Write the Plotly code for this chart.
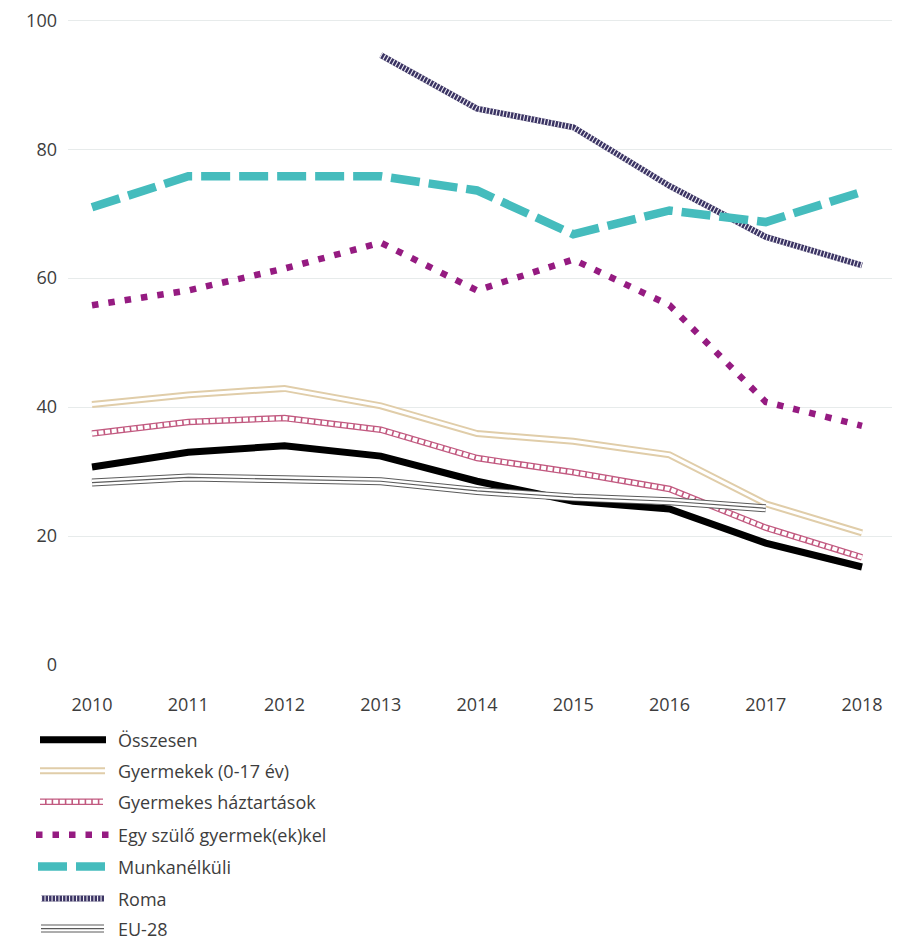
import plotly.graph_objects as go

# ---------------- data ----------------
years = [2010, 2011, 2012, 2013, 2014, 2015, 2016, 2017, 2018]
osszesen = [30.7, 33.0, 34.0, 32.4, 28.5, 25.4, 24.2, 18.9, 15.2]
gyermekek = [40.4, 41.9, 42.9, 40.2, 35.9, 34.7, 32.6, 25.0, 20.5]
haztartasok = [35.9, 37.7, 38.3, 36.5, 32.1, 29.9, 27.3, 21.3, 16.7]
egy_szulo = [55.8, 58.1, 61.5, 65.5, 58.1, 62.9, 55.8, 40.8, 37.1]
munkanelkuli = [71.0, 75.8, 75.8, 75.8, 73.6, 66.8, 70.5, 68.7, 73.4]
roma = [None, None, None, 94.6, 86.3, 83.4, 74.3, 66.4, 62.0]
eu28 = [28.3, 29.1, 28.8, 28.5, 27.0, 26.0, 25.4, 24.3, None]

names = ["Összesen", "Gyermekek (0-17 év)", "Gyermekes háztartások",
         "Egy szülő gyermek(ek)kel", "Munkanélküli", "Roma", "EU-28"]
y_ticks = [0, 20, 40, 60, 80, 100]

# ---------------- styles (layers drawn bottom -> top) ----------------
BLACK = "#000000"
TAN = "#e0cda9"
ROSE = "#c25a80"
PURPLE = "#951b81"
TEAL = "#45bcbd"
NAVY = "#3b3463"
GRAY = "#5a5a5a"
WHITE = "#ffffff"

styles = {
    "Összesen": [(BLACK, 7, "solid")],
    "Gyermekek (0-17 év)": [(TAN, 7, "solid"), (WHITE, 3, "solid")],
    "Gyermekes háztartások": [(ROSE, 6.5, "solid"), (WHITE, 4, "5px,1.6px")],
    "Egy szülő gyermek(ek)kel": [(PURPLE, 6.5, "6.5px,10px")],
    "Munkanélküli": [(TEAL, 8.5, "29px,9px")],
    "Roma": [(NAVY, 6, "solid"), ("#f2f0f7", 6, "1.1px,2.4px")],
    "EU-28": [(GRAY, 8, "solid"), (WHITE, 6, "solid"), (GRAY, 1.2, "solid")],
}
series = {
    "Összesen": osszesen,
    "Gyermekek (0-17 év)": gyermekek,
    "Gyermekes háztartások": haztartasok,
    "Egy szülő gyermek(ek)kel": egy_szulo,
    "Munkanélküli": munkanelkuli,
    "Roma": roma,
    "EU-28": eu28,
}
draw_order = ["Összesen", "Gyermekek (0-17 év)", "Gyermekes háztartások",
              "Egy szülő gyermek(ek)kel", "Roma", "Munkanélküli", "EU-28"]

fig = go.Figure()
for nm in draw_order:
    for color, w, dash in styles[nm]:
        fig.add_trace(go.Scatter(
            x=years, y=series[nm], mode="lines", name=nm,
            line=dict(color=color, width=w, dash=dash),
            connectgaps=False, showlegend=False, hoverinfo="skip"))

# ---------------- layout geometry ----------------
OFF = 8  # page body margin
W, H = 892, 932
L, R, T = 60, 0, 11
Y_MAX = 100.2
PH = 645 * Y_MAX / 100
B = H - T - PH
PW = W - L - R
px_per_year = 96.25
x0 = 2010 - (92 - OFF - L) / px_per_year
x1 = x0 + PW / px_per_year

def px2x(px):
    return (px - OFF - L) / PW

def py2y(py):
    return (T + PH - (py - OFF)) / PH

FONT = "Open Sans, Lato, sans-serif"
TXT = "#3d3d3d"

# ---------------- manual legend ----------------
shapes = []
annotations = []
row_y = [740, 771, 802, 835, 867, 899, 929]
sym_x = {
    "Összesen": (40, 106),
    "Gyermekek (0-17 év)": (40, 105),
    "Gyermekes háztartások": (40, 103),
    "Egy szülő gyermek(ek)kel": (36, 110),
    "Munkanélküli": (38, 112),
    "Roma": (41, 104),
    "EU-28": (41, 104),
}
for nm, ry in zip(names, row_y):
    xa, xb = sym_x[nm]
    for color, w, dash in styles[nm]:
        shapes.append(dict(type="line", xref="paper", yref="paper",
                           x0=px2x(xa), x1=px2x(xb), y0=py2y(ry), y1=py2y(ry),
                           line=dict(color=color, width=w, dash=dash)))
    annotations.append(dict(text=nm, xref="paper", yref="paper",
                            x=px2x(116), y=py2y(ry), xanchor="left", yanchor="middle",
                            showarrow=False, font=dict(family=FONT, size=18, color=TXT)))

fig.update_layout(
    width=W, height=H,
    margin=dict(l=L, r=R, t=T, b=B, pad=0),
    paper_bgcolor="white", plot_bgcolor="white",
    showlegend=False,
    font=dict(family=FONT, size=18, color=TXT),
    shapes=shapes, annotations=annotations,
    xaxis=dict(range=[x0, x1], tickvals=years, ticktext=[str(y) for y in years],
               showgrid=False, zeroline=False, showline=False, ticks="",
               ticklabelstandoff=27, ticklabeloverflow="allow",
               tickfont=dict(size=18, color=TXT), fixedrange=True),
    yaxis=dict(range=[0, Y_MAX], tickvals=y_ticks, showgrid=True, gridcolor="#e7ebeb",
               gridwidth=1, zeroline=False, showline=False, ticks="",
               ticklabelstandoff=10, ticklabeloverflow="allow",
               tickfont=dict(size=18, color=TXT), fixedrange=True),
)

fig.write_html("out.html")
